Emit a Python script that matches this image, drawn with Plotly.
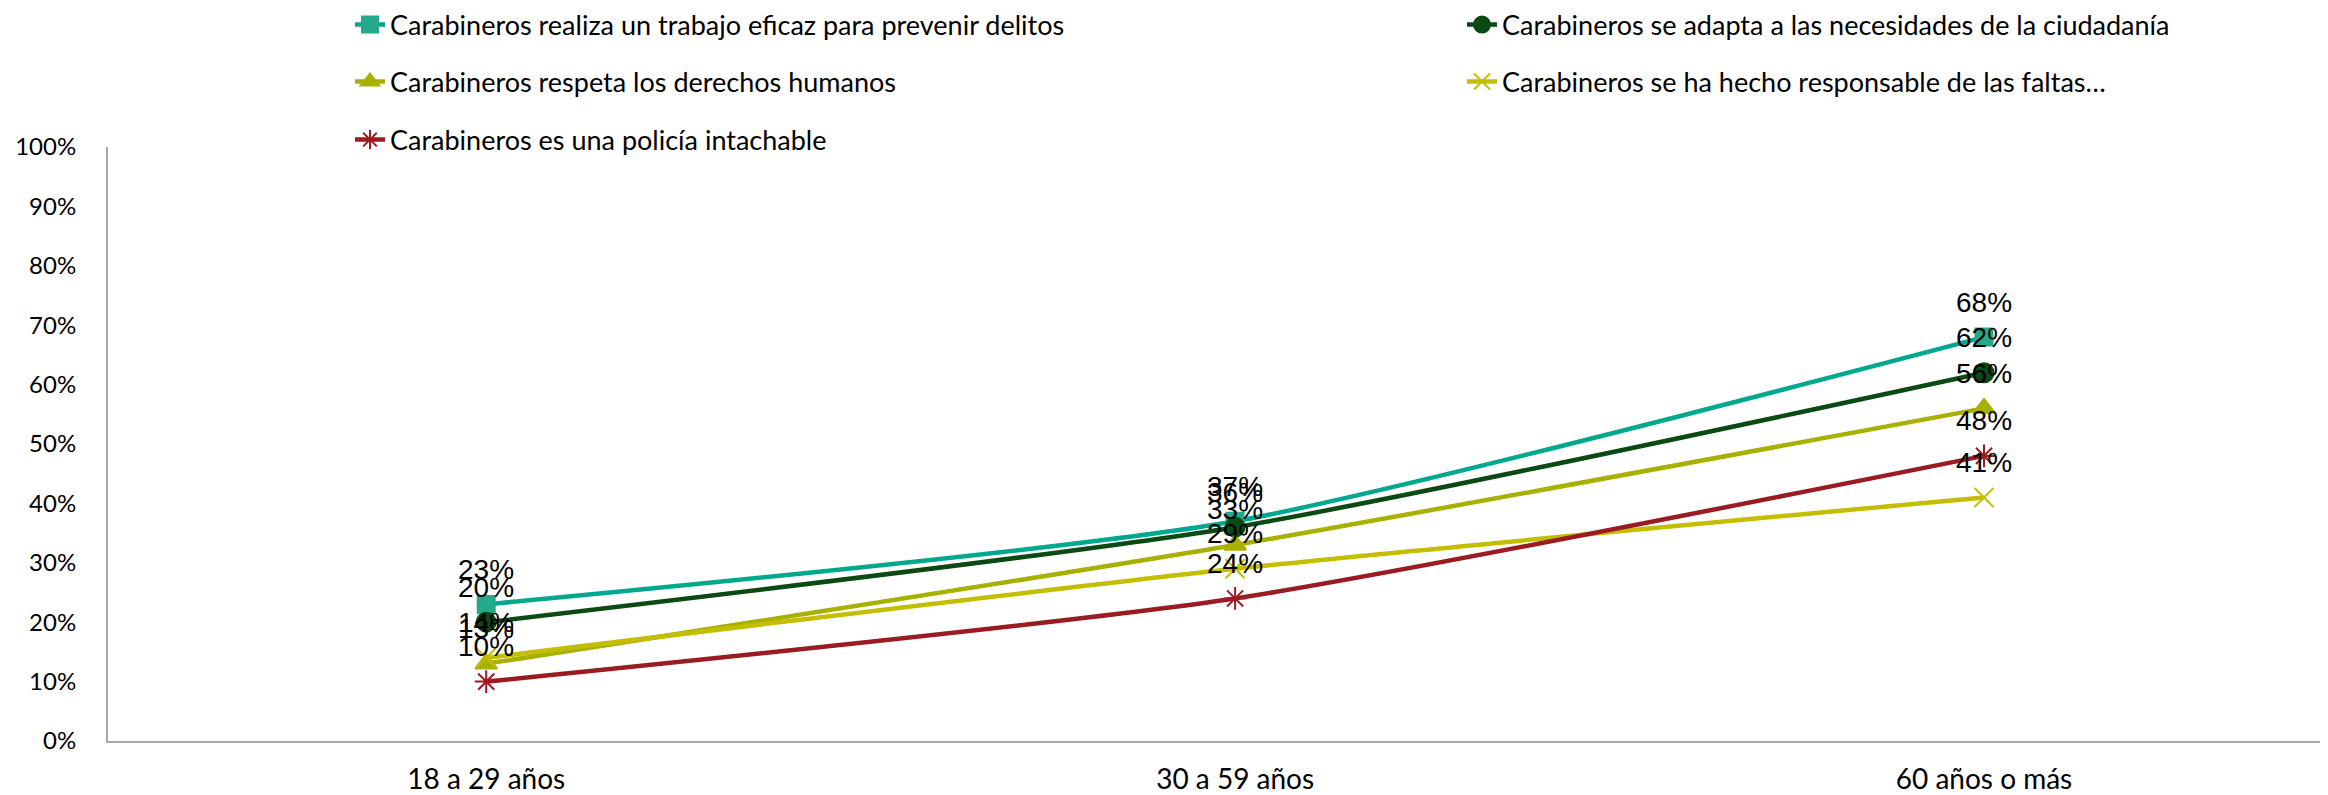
import plotly.graph_objects as go

categories = ["18 a 29 años", "30 a 59 años", "60 años o más"]

series_names = [
    "Carabineros realiza un trabajo eficaz para prevenir delitos",
    "Carabineros se adapta a las necesidades de la ciudadanía",
    "Carabineros respeta los derechos humanos",
    "Carabineros se ha hecho responsable de las faltas…",
    "Carabineros es una policía intachable",
]
eficaz = [23, 37, 68]
adapta = [20, 36, 62]
derechos = [13, 33, 56]
responsable = [14, 29, 41]
intachable = [10, 24, 48]

y_ticks = list(range(0, 101, 10))

values = [eficaz, adapta, derechos, responsable, intachable]
colors = ["#00A88E", "#0B4A12", "#A8B000", "#C4BE00", "#9B1B22"]
marker_colors = ["#26A88A", "#0B4A12", "#A8B000", "#C4BE00", "#9B1B22"]
symbols = ["square", "circle", "triangle-up", "x-thin-open", "asterisk-open"]
msizes = [17, 19, 19, 19, 19]
legends = ["legend", "legend", "legend2", "legend2", "legend3"]

fig = go.Figure()
for name, vals, c, mc, sym, ms, lg in zip(series_names, values, colors, marker_colors, symbols, msizes, legends):
    fig.add_trace(go.Scatter(
        x=categories, y=vals, name=name, mode="lines+markers",
        line=dict(color=c, width=4.5, shape="spline", smoothing=0.6),
        marker=dict(symbol=sym, size=ms, color=mc, line=dict(color=mc, width=2)),
        legend=lg,
    ))

annotations = []
for vals in values:
    for cat, v in zip(categories, vals):
        annotations.append(dict(
            x=cat, y=v, text=f"{v}%", showarrow=False, yshift=35,
            xanchor="center", yanchor="middle",
            font=dict(family="Liberation Sans, Arial", size=28, color="#000000"),
        ))

legend_common = dict(
    orientation="h", xref="container", yref="container",
    xanchor="left", yanchor="middle",
    font=dict(family="Lato", size=27, color="#000000"),
    entrywidth=1067, entrywidthmode="pixels",
    bgcolor="rgba(0,0,0,0)", itemwidth=30,
)

fig.update_layout(
    width=2328, height=795,
    paper_bgcolor="white", plot_bgcolor="white",
    margin=dict(l=100, r=0, t=139, b=62, autoexpand=False),
    showlegend=True,
    legend=dict(x=342 / 2328, y=1 - 17 / 795, **legend_common),
    legend2=dict(x=342 / 2328, y=1 - 74 / 795, **legend_common),
    legend3=dict(x=342 / 2328, y=1 - 132 / 795, **legend_common),
    annotations=annotations,
    xaxis=dict(
        type="category", range=[-0.505, 2.47],
        showline=True, linecolor="#A6A6A6", linewidth=2,
        showgrid=False, zeroline=False, ticks="",
        tickfont=dict(family="Lato", size=28, color="#000000"),
        ticklabelstandoff=12, automargin=False,
    ),
    yaxis=dict(
        range=[0, 100], tickvals=y_ticks, ticktext=[f"{t}%" for t in y_ticks],
        showline=True, linecolor="#A6A6A6", linewidth=2,
        showgrid=False, zeroline=False, ticks="",
        tickfont=dict(family="Lato", size=24, color="#000000"),
        ticklabelstandoff=25, automargin=False,
    ),
)

fig.write_html("out.html")
